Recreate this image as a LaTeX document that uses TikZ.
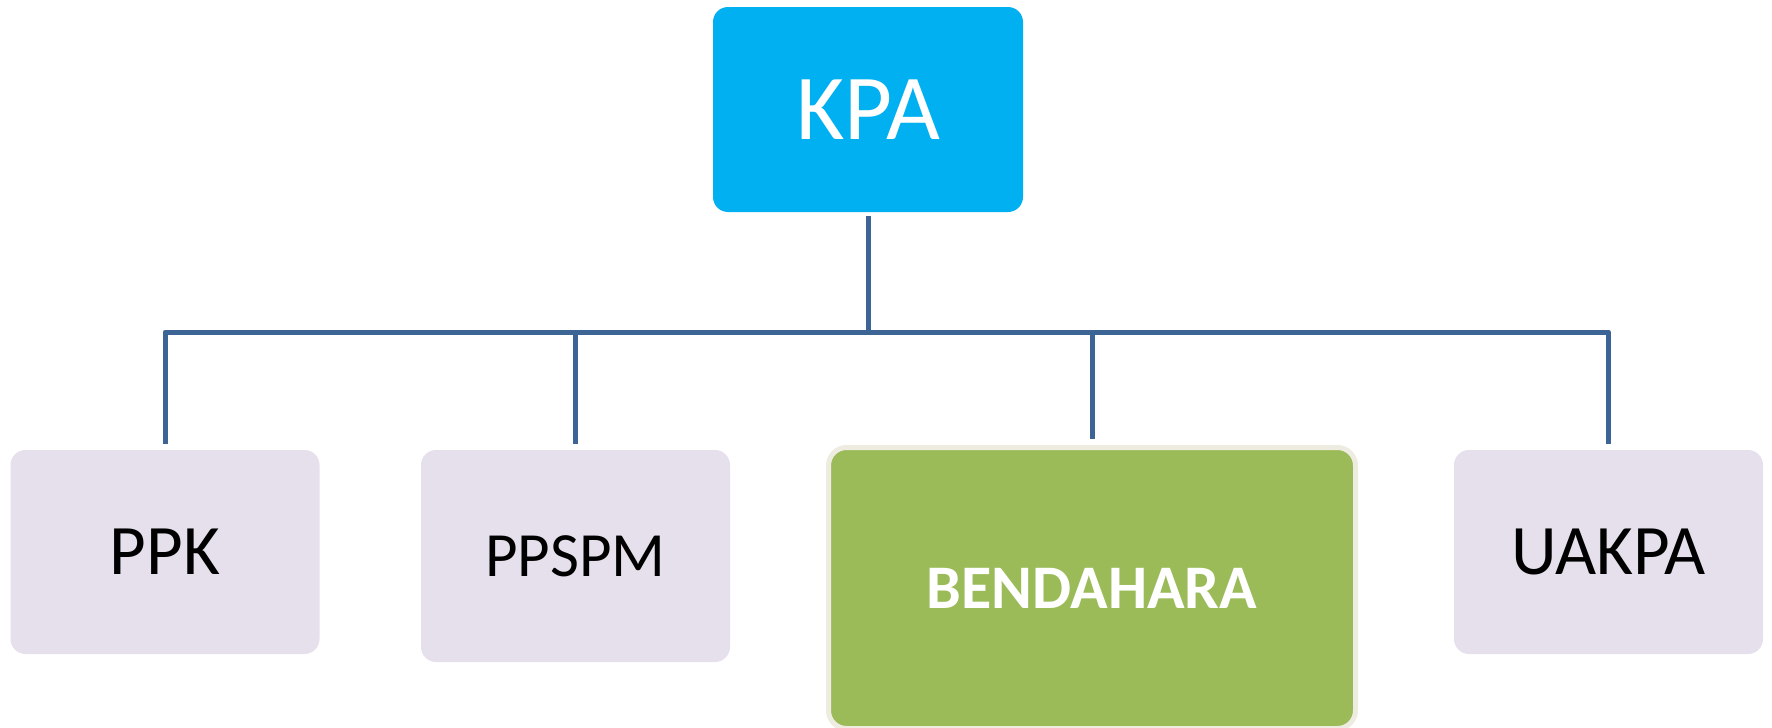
\documentclass[tikz,border=0pt]{standalone}
\usepackage{fontspec}
\setmainfont{Carlito}
\definecolor{kpablue}{HTML}{00B0F0}
\definecolor{unitlilac}{HTML}{E5E0EC}
\definecolor{treasgreen}{HTML}{9BBB59}
\definecolor{treasrim}{HTML}{EEECE1}
\definecolor{linkblue}{HTML}{3C6494}
\begin{document}
\begin{tikzpicture}[x=1pt,y=-1pt,
  unitbox/.style={rectangle, rounded corners=15pt, fill=unitlilac, inner sep=0pt,
    minimum width=309pt, minimum height=204pt, text=black,
    font=\fontsize{71}{80}\selectfont},
  headbox/.style={rectangle, rounded corners=15pt, fill=kpablue, inner sep=0pt,
    minimum width=310pt, minimum height=205pt, text=white,
    font=\fontsize{93}{100}\selectfont},
  treasbox/.style={rectangle, rounded corners=18pt, fill=treasgreen, draw=treasrim,
    line width=5pt, inner sep=0pt, minimum width=527pt, minimum height=281pt,
    text=white, font=\fontsize{62}{70}\selectfont\bfseries},
  link/.style={draw=linkblue, line width=5pt, line join=round}]
  \useasboundingbox (0,0) rectangle (1772,728);

  % boxes
  \node[headbox] (KPA) at (868,109.5) {KPA};
  \node[unitbox] (PPK) at (165,552) {PPK};
  \node[unitbox, minimum height=212pt, font=\fontsize{63}{70}\selectfont] (PPSPM) at (575.5,556) {PPSPM};
  \node[treasbox] (BEND) at (1092,588) {BENDAHARA};
  \node[unitbox] (UAKPA) at (1608.5,552) {UAKPA};

  % distribution bar
  \coordinate (barlevel) at (0,332);
  \coordinate (hub) at (KPA.south |- barlevel);

  % connectors
  \draw[link, shorten <=4pt] (KPA.south) -- (hub);
  \draw[link, shorten >=6pt] (hub) -| (PPK.north);
  \draw[link, shorten >=6pt] (hub) -| (PPSPM.north);
  \draw[link, shorten >=6pt] (hub) -| (BEND.north);
  \draw[link, shorten >=6pt] (hub) -| (UAKPA.north);
\end{tikzpicture}
\end{document}
